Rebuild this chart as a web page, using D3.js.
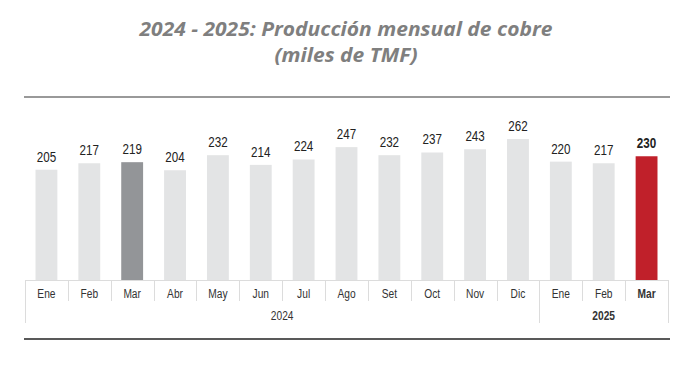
<!DOCTYPE html>
<html><head><meta charset="utf-8">
<script src="https://cdn.jsdelivr.net/npm/d3@7"></script>
<style>body{margin:0;background:#fff}</style>
</head><body>
<svg id="c" width="698" height="369"></svg>
<script>
const months = ["Ene","Feb","Mar","Abr","May","Jun","Jul","Ago","Set","Oct","Nov","Dic","Ene","Feb","Mar"];
const years = ["2024","2024","2024","2024","2024","2024","2024","2024","2024","2024","2024","2024","2025","2025","2025"];
const values = [205,217,219,204,232,214,224,247,232,237,243,262,220,217,230];
const yearGroups = ["2024","2025"];
const titleLines = ["2024 - 2025: Producción mensual de cobre","(miles de TMF)"];

const svg = d3.select("#c");
const x0=25, x1=668, base=280;
const keys = months.map((m,i)=>i);
const x = d3.scaleBand().domain(keys).range([x0,x1]).paddingInner(0.49).paddingOuter(0.245);
const xb = d3.scaleBand().domain(keys).range([x0,x1]);
const y = d3.scaleLinear().domain([0,300]).range([base,118.6]);
const font = "'Liberation Sans',Arial,sans-serif";

function color(i){ if(i===14) return "#c0202a"; if(i===2) return "#939598"; return "#e3e4e5"; }
function condense(sel,f){ sel.each(function(){ const L=this.getComputedTextLength(); d3.select(this).attr("textLength",L*f).attr("lengthAdjust","spacingAndGlyphs"); }); }

svg.selectAll("text.title").data(titleLines).join("text")
 .attr("x",346).attr("y",(d,i)=>36+i*26).attr("text-anchor","middle")
 .style("font-family","'Open Sans',sans-serif").style("font-style","italic").style("font-weight","bold")
 .style("font-size","20px").attr("fill","#7f7f7f").text(d=>d)
 .call(condense,1.05);

svg.append("line").attr("x1",24).attr("x2",670).attr("y1",97).attr("y2",97).attr("stroke","#777").attr("stroke-width",1.5);
svg.append("line").attr("x1",24).attr("x2",670).attr("y1",339).attr("y2",339).attr("stroke","#222").attr("stroke-width",1.5);

svg.selectAll("rect.bar").data(values).join("rect")
 .attr("x",(d,i)=>x(i)).attr("width",x.bandwidth())
 .attr("y",d=>y(d)).attr("height",d=>base-y(d)).attr("fill",(d,i)=>color(i));

svg.selectAll("text.val").data(values).join("text")
 .attr("x",(d,i)=>x(i)+x.bandwidth()/2).attr("y",d=>y(d)-8).attr("text-anchor","middle")
 .style("font-family",font).style("font-size","14px")
 .style("font-weight",(d,i)=>i===14?"bold":"normal").attr("fill","#222").text(d=>d)
 .call(condense,0.83);

const g = svg.append("g").attr("stroke","#dcdcdc").attr("stroke-width",1);
g.append("line").attr("x1",x0).attr("x2",x1).attr("y1",base+0.5).attr("y2",base+0.5);
const bounds = d3.range(0,16).map(i=> i<15 ? xb(i) : x1);
g.selectAll("line.sep").data(bounds).join("line")
 .attr("x1",d=>Math.round(d)+0.5).attr("x2",d=>Math.round(d)+0.5)
 .attr("y1",base).attr("y2",(d,i)=>(i===0||i===12||i===15)?323:301);

svg.selectAll("text.mon").data(months).join("text")
 .attr("x",(d,i)=>xb(i)+xb.bandwidth()/2).attr("y",298).attr("text-anchor","middle")
 .style("font-family",font).style("font-size","12px")
 .style("font-weight",(d,i)=>i===14?"bold":"normal").attr("fill","#333").text(d=>d)
 .call(condense,0.85);

svg.selectAll("text.yr").data(yearGroups).join("text")
 .attr("x",d=>{const idx=years.map((v,i)=>v===d?i:-1).filter(i=>i>=0);return (xb(idx[0])+xb(idx[idx.length-1])+xb.bandwidth())/2;})
 .attr("y",320).attr("text-anchor","middle")
 .style("font-family",font).style("font-size","12px")
 .style("font-weight",d=>d==="2025"?"bold":"normal").attr("fill","#333").text(d=>d)
 .call(condense,0.85);
</script>
</body></html>
